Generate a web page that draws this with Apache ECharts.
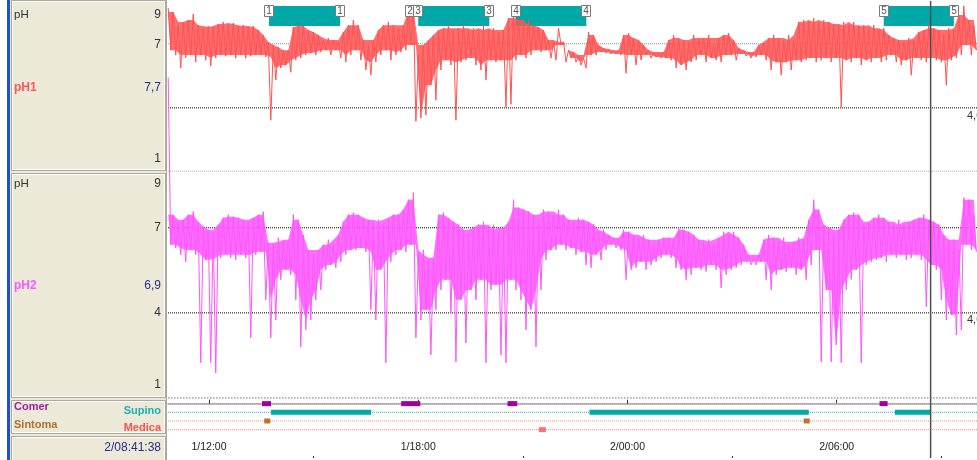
<!DOCTYPE html>
<html><head><meta charset="utf-8">
<script src="https://cdn.jsdelivr.net/npm/echarts@6/dist/echarts.min.js"></script>
<style>html,body{margin:0;padding:0;background:#fff}#c{width:977px;height:460px}</style>
</head><body><div id="c"></div>
<script>
// ---- sampling grid of the traces (hours since 1/00:00) ----
const sampleStartHour = 10.83;
const sampleStepHour = 0.1435;

// ---- pH1 trace: upper / lower envelope per sample ----
const ph1High = [
 8.67,8.48,7.87,8.02,8.11,8.39,7.87,7.73,7.83,7.78,
 7.92,8.02,7.92,7.97,7.83,7.87,7.78,7.83,7.64,7.41,
 7.08,6.94,6.84,6.70,6.70,7.78,7.87,7.83,7.64,7.55,
 7.41,7.17,7.27,7.17,7.08,7.55,7.87,8.11,7.87,7.17,
 6.94,7.17,7.64,7.87,8.02,7.87,7.73,7.87,8.58,8.81,
 6.47,6.94,7.17,7.41,7.64,7.73,7.87,7.64,7.73,7.87,
 7.64,7.73,7.64,7.87,7.64,7.73,7.55,7.64,8.20,8.58,
 8.11,7.87,8.11,7.87,7.78,7.64,7.17,7.08,7.73,7.08,
 6.70,6.61,6.47,6.33,7.55,7.41,6.94,6.80,6.75,6.70,
 6.70,7.41,7.50,7.27,7.17,6.94,6.70,6.61,6.56,6.61,
 7.17,7.41,7.27,7.17,7.08,7.41,7.27,7.27,7.41,6.94,
 7.27,7.41,7.50,7.17,6.80,6.70,6.61,6.61,6.94,7.08,
 7.27,7.41,7.27,7.17,7.41,7.17,8.02,8.11,8.02,8.20,
 8.02,8.11,8.02,7.92,7.87,8.02,7.87,8.02,7.83,7.87,
 7.73,7.87,7.64,7.73,7.41,7.27,7.17,7.08,7.27,7.17,
 7.55,7.64,7.87,7.73,7.64,7.41,7.73,7.64,8.34,8.77,
 8.11,7.87];
const ph1Low = [
 6.70,6.47,5.86,6.33,6.47,6.14,6.47,6.23,5.95,6.33,
 6.47,6.42,6.47,6.33,6.47,6.33,6.42,6.47,6.47,6.38,
 3.42,5.30,5.86,6.00,5.67,6.23,6.33,6.47,6.56,6.47,
 6.61,6.70,6.47,6.70,6.33,6.14,6.47,6.70,6.23,5.77,
 5.53,6.14,6.47,6.70,6.23,6.47,6.61,6.70,6.94,3.37,
 3.52,3.66,5.06,4.36,5.77,6.23,6.00,3.42,6.14,6.23,
 6.33,6.00,5.77,5.30,6.23,6.14,6.23,4.03,4.17,6.23,
 6.47,6.33,6.47,6.70,6.61,6.70,6.33,6.23,6.94,6.14,
 6.33,6.14,6.00,5.86,6.47,6.47,6.61,6.56,6.52,6.52,
 6.47,5.62,6.47,6.00,6.23,6.47,6.33,6.38,6.33,6.33,
 6.23,5.86,6.00,5.77,6.14,6.23,6.47,6.14,6.33,6.23,
 6.14,6.47,6.47,6.23,6.52,6.42,6.33,6.38,6.47,6.23,
 5.77,6.14,5.53,6.14,5.77,6.23,6.14,6.23,6.33,6.14,
 6.23,6.33,6.14,6.33,4.03,6.23,6.14,6.33,6.00,6.23,
 6.14,6.33,6.14,6.23,6.47,6.14,6.00,6.23,5.53,6.33,
 6.23,6.14,6.33,6.23,6.14,5.06,6.23,6.33,6.47,6.94,
 6.47,6.70];

// ---- pH2 trace: upper / lower envelope per sample ----
const ph2High = [
 12.30,7.46,7.21,7.28,7.46,7.57,7.21,7.04,6.93,6.86,
 7.11,7.35,7.46,7.39,7.35,7.28,7.21,7.35,7.46,7.57,
 6.47,6.40,6.65,6.51,6.58,7.46,7.28,6.75,6.22,6.05,
 6.22,6.40,6.58,6.40,6.75,7.21,7.46,7.53,7.46,7.35,
 7.28,7.21,7.28,7.11,7.35,7.46,7.46,7.64,7.99,8.24,
 6.05,6.22,5.87,5.94,7.46,7.53,7.35,7.21,7.11,6.93,
 6.75,7.00,7.11,7.21,6.93,7.11,6.86,7.00,7.21,7.99,
 7.71,7.64,7.57,7.46,7.28,7.64,7.57,7.46,7.64,7.46,
 7.28,7.21,7.35,7.28,7.21,7.11,6.86,6.93,6.75,6.65,
 6.58,6.93,6.86,6.75,6.65,6.75,6.58,6.40,6.58,6.65,
 6.65,6.58,7.00,6.93,6.86,6.75,6.58,6.51,6.58,6.40,
 6.65,6.86,6.75,6.86,6.65,6.40,6.05,5.94,6.05,6.58,
 6.75,6.65,6.51,6.65,6.40,6.51,6.65,6.58,7.28,7.99,
 7.64,7.11,7.00,6.75,6.93,7.28,7.46,7.53,7.46,7.11,
 7.21,7.35,7.46,7.35,7.21,7.11,7.28,7.11,7.21,7.28,
 7.35,7.46,7.28,7.21,7.11,6.75,6.58,6.58,6.22,8.06,
 7.99,7.46];
const ph2Low = [
 6.40,6.29,6.05,5.80,6.22,6.05,2.24,5.87,2.24,1.88,
 5.94,6.05,5.94,5.87,6.05,5.94,3.12,6.05,6.15,4.46,
 3.12,3.75,5.17,5.52,5.34,4.46,2.80,3.40,3.75,4.46,
 4.81,5.52,5.69,5.59,5.80,6.05,6.22,6.22,6.29,6.15,
 4.11,3.75,5.52,2.24,5.80,6.05,6.22,6.15,6.40,3.12,
 3.75,4.11,2.52,4.11,4.81,5.17,4.00,2.27,4.46,2.94,
 4.81,4.46,5.17,2.24,4.81,4.99,2.52,2.24,5.17,4.81,
 4.46,3.40,4.11,2.80,4.81,5.87,6.22,6.22,6.40,6.22,
 6.29,6.05,6.15,5.69,5.59,6.05,5.87,6.22,6.40,6.29,
 6.22,5.17,5.52,5.59,5.80,5.52,5.69,5.80,5.94,6.05,
 5.94,5.59,5.52,5.17,5.34,5.59,5.52,5.45,5.69,5.52,
 4.88,5.34,5.52,5.59,5.69,5.80,5.69,5.69,5.80,5.17,
 4.81,5.34,5.52,5.45,5.59,5.34,5.52,5.17,5.69,6.22,
 2.27,4.81,2.27,2.87,2.24,4.81,5.17,5.52,2.24,5.69,
 5.80,5.87,5.94,5.80,6.05,5.94,6.05,5.87,5.94,6.05,
 5.87,4.21,5.69,5.52,4.46,3.75,3.93,3.22,3.40,6.40,
 6.22,6.15];

// ---- analysis periods shown on top of pH1 ----
const periodBars = [[13.72,15.76],[18.00,20.04],[20.79,22.82],[31.35,33.36]];
const markerHours = [13.72,15.76,17.77,18.00,20.04,20.79,22.82,31.35,33.36];
const markerNums  = ['1','1','2','3','3','4','4','5','5'];

// ---- events ----
const eventRows = ['Comer','Supino','Sintoma','Medica'];
const comerEvents  = [[13.52,13.78],[17.51,18.06],[20.56,20.84],[31.23,31.46]];
const supinoEvents = [[13.78,16.65],[22.91,29.20],[31.67,32.70]];
const sintomaEvents = [13.67, 29.14];
const medicaEvents  = [21.56];

// ---- axis ----
const timeMin = 10.824, timeMax = 34.024;
const tickHours  = [12,18,24,30];
const tickLabels = ['1/12:00','1/18:00','2/00:00','2/06:00'];
const minorTickHours = [15,21,27,33];
const phThresholds = [7,4];
const cursorHour = 32.694;
const cursorLabel = '2/08:41:38';
const ph1Current = '7,7', ph2Current = '6,9';

function tAt(i){ return sampleStartHour + i*sampleStepHour; }
function zigzag(hi, lo){
  const out = [];
  for (let i = 0; i < hi.length; i++){
    out.push([tAt(i), hi[i]]);
    out.push([tAt(i) + sampleStepHour/2, lo[i]]);
  }
  return out;
}
function neigh(arr, i){
  const a = i>0 ? arr[i-1] : arr[i+1];
  const c = i<arr.length-1 ? arr[i+1] : arr[i-1];
  return [a, arr[i], c].sort((p,q)=>p-q);
}
// solid core of the trace: median of the upper envelope, highest of the neighbouring lower envelopes
function bandSeries(gi, hi, lo, color){
  const top = hi.map((v,i)=>neigh(hi,i)[1]);
  const bot = lo.map((v,i)=>neigh(lo,i)[2]);
  return {type:'custom', xAxisIndex:gi, yAxisIndex:gi, data:[[tAt(0), 5]], z:4, silent:true,
    renderItem:function(params, api){
      const pts = [];
      for (let i = 0; i < top.length; i++) pts.push(api.coord([tAt(i), top[i]]));
      for (let i = bot.length-1; i >= 0; i--) pts.push(api.coord([tAt(i)+sampleStepHour/2, bot[i]]));
      return {type:'polygon', shape:{points:pts}, style:{fill:color, opacity:0.85}};
    }};
}
function hLine(xi, yi, v, color, width, z){
  return {type:'line', xAxisIndex:xi, yAxisIndex:yi, data:[[timeMin,v],[timeMax,v]], symbol:'none',
    silent:true, z:z||1, lineStyle:{color:color, width:width||1, type:'dotted'}};
}
function vLine(xi, yi, a, b){
  return {type:'line', xAxisIndex:xi, yAxisIndex:yi, data:[[cursorHour,a],[cursorHour,b]], symbol:'none',
    silent:true, z:8, lineStyle:{color:'#505050', width:1.5}};
}
function intervalSeries(data, row, color, h){
  return {type:'custom', xAxisIndex:2, yAxisIndex:2, data:data, z:6, silent:true,
    renderItem:function(params, api){
      const a = api.coord([api.value(0), row]);
      const b = api.coord([api.value(1), row]);
      return {type:'rect', shape:{x:a[0], y:a[1]-h/2, width:Math.max(b[0]-a[0],2), height:h}, style:{fill:color}};
    }};
}

const F = '"Liberation Sans", Arial, sans-serif';
function txt(t, x, y, color, size, bold, align){
  return {type:'text', silent:true, style:{text:t, x:x, y:y, fill:color, align:align||'left', verticalAlign:'middle',
    font:(bold?'bold ':'')+size+'px '+F}};
}
function box(y, h){
  return [
    {type:'rect', silent:true, shape:{x:11.5, y:y+0.5, width:154, height:h-1}, style:{fill:'none', stroke:'#aca899', lineWidth:1}},
    {type:'rect', silent:true, shape:{x:12.5, y:y+1.5, width:152, height:h-3}, style:{fill:'none', stroke:'#ffffff', lineWidth:1}}
  ];
}

const graphic = [
  {type:'rect', silent:true, shape:{x:0,y:0,width:7,height:460}, style:{fill:'#ffffff'}},
  {type:'rect', silent:true, shape:{x:7,y:0,width:3,height:460}, style:{fill:'#1a4fd6'}},
  {type:'rect', silent:true, shape:{x:10,y:0,width:157,height:460}, style:{fill:'#ece9d8'}},
  {type:'line', silent:true, shape:{x1:166.5,y1:0,x2:166.5,y2:460}, style:{stroke:'#aca899', lineWidth:1}},
  ...box(0,171), ...box(173,225), ...box(400,34), ...box(436,26),
  txt('pH', 14, 15, '#333', 11.5), txt('9', 161, 15, '#333', 12, false, 'right'),
  txt('7', 161, 44.5, '#333', 12, false, 'right'),
  txt('pH1', 14, 88, '#ff5555', 12, true), txt(ph1Current, 161, 88, '#2a2a8c', 12, false, 'right'),
  txt('1', 161, 159, '#333', 12, false, 'right'),
  txt('pH', 14, 184, '#333', 11.5), txt('9', 161, 184, '#333', 12, false, 'right'),
  txt('7', 161, 228, '#333', 12, false, 'right'),
  txt('pH2', 14, 286, '#ff55ff', 12, true), txt(ph2Current, 161, 286, '#2a2a8c', 12, false, 'right'),
  txt('4', 161, 313, '#333', 12, false, 'right'),
  txt('1', 161, 385, '#333', 12, false, 'right'),
  txt(eventRows[0], 14, 407, '#a020a0', 11, true), txt(eventRows[1], 161, 411, '#20b0b0', 11, true, 'right'),
  txt(eventRows[2], 14, 424.5, '#b07030', 11, true), txt(eventRows[3], 161, 428, '#ff5050', 11, true, 'right'),
  txt(cursorLabel, 161, 448, '#2a2a8c', 12, false, 'right'),
  txt('4,0', 967, 116, '#333', 11), txt('4,0', 967, 320, '#333', 11)
];

const xHidden = i => ({type:'value', gridIndex:i, min:timeMin, max:timeMax, show:false});
const yHidden = (i,mn,mx,inv) => ({type:'value', gridIndex:i, min:mn, max:mx, inverse:!!inv, show:false});

const option = {
  animation:false,
  backgroundColor:'#ffffff',
  graphic:graphic,
  grid:[
    {left:168, right:0, top:1, height:171},
    {left:168, right:0, top:171, height:227},
    {left:168, right:0, top:398, height:60}
  ],
  xAxis:[
    xHidden(0), xHidden(1),
    {type:'value', gridIndex:2, min:timeMin, max:timeMax, position:'bottom',
      axisLine:{show:true, lineStyle:{color:'#aca899', width:1.5}},
      splitLine:{show:false},
      axisTick:{show:true, inside:true, length:4, customValues:tickHours, lineStyle:{color:'#333'}},
      axisLabel:{show:true, inside:true, margin:5, customValues:tickHours, color:'#222', fontSize:10.5, fontFamily:'Liberation Sans',
        formatter:function(v){ const i = tickHours.indexOf(Math.round(v)); return i>=0 ? tickLabels[i] : ''; }}},
    {type:'value', gridIndex:2, min:timeMin, max:timeMax, position:'bottom',
      axisLine:{show:false}, splitLine:{show:false}, axisLabel:{show:false},
      axisTick:{show:true, inside:true, length:2, customValues:minorTickHours, lineStyle:{color:'#333'}}}
  ],
  yAxis:[ yHidden(0,1,9), yHidden(1,1,9), yHidden(2,-0.65,6.27,true) ],
  series:[
    // reference lines
    hLine(0,0,phThresholds[0],'#8a8a8a',1), hLine(0,0,phThresholds[1],'#000000',1),
    hLine(1,1,phThresholds[0],'#000000',1), hLine(1,1,phThresholds[1],'#000000',1),
    hLine(1,1,9,'#a0a0a0',1), hLine(1,1,1,'#909090',1.5),
    hLine(2,2,0,'#c880c8',1), hLine(2,2,1,'#30b4b4',1), hLine(2,2,2,'#d0a070',1), hLine(2,2,3,'#ff9090',1),
    // analysis periods
    {type:'custom', xAxisIndex:0, yAxisIndex:0, data:periodBars, z:3, silent:true,
      renderItem:function(params, api){
        const a = api.coord([api.value(0), 9]);
        const b = api.coord([api.value(1), 9]);
        const top = params.coordSys.y + 5;
        return {type:'rect', shape:{x:a[0], y:top, width:b[0]-a[0], height:20}, style:{fill:'#00a8a8'}};
      }},
    bandSeries(0, ph1High, ph1Low, '#ff5555'),
    {type:'line', xAxisIndex:0, yAxisIndex:0, data:zigzag(ph1High, ph1Low), symbol:'none', showSymbol:false,
      z:4, silent:true, lineStyle:{color:'#ff5252', width:1}},
    {type:'custom', xAxisIndex:0, yAxisIndex:0, data:markerHours.map(h=>[h]), z:5, silent:true,
      renderItem:function(params, api){
        const x = Math.round(api.coord([api.value(0), 9])[0]);
        const top = params.coordSys.y + 4;
        return {type:'group', children:[
          {type:'rect', shape:{x:x-4.5, y:top+0.5, width:9, height:11}, style:{fill:'#ffffff', stroke:'#7a7a7a', lineWidth:1}},
          {type:'text', style:{text:markerNums[params.dataIndex], x:x, y:top+6.5, align:'center', verticalAlign:'middle', fill:'#555', font:'10px '+F}}
        ]};
      }},
    bandSeries(1, ph2High, ph2Low, '#ff55ff'),
    {type:'line', xAxisIndex:1, yAxisIndex:1, data:zigzag(ph2High, ph2Low), symbol:'none', showSymbol:false,
      z:4, silent:true, clip:false, lineStyle:{color:'#ff55ff', width:1}},
    // events
    intervalSeries(comerEvents, 0, '#a000a0', 5),
    intervalSeries(supinoEvents, 1, '#00a8a8', 5),
    {type:'scatter', xAxisIndex:2, yAxisIndex:2, data:sintomaEvents.map(h=>[h,2]), symbol:'rect', symbolSize:[6,5], z:6, silent:true, itemStyle:{color:'#b05000'}},
    {type:'scatter', xAxisIndex:2, yAxisIndex:2, data:medicaEvents.map(h=>[h,3]), symbol:'rect', symbolSize:[7,5], z:6, silent:true, itemStyle:{color:'#ff5050'}},
    // cursor
    vLine(0,0,1,9), vLine(1,1,1,9), vLine(2,2,-0.65,6.27)
  ]
};
const chart = echarts.init(document.getElementById('c'), null, {renderer:'canvas'});
chart.setOption(option);
</script>
</body></html>
